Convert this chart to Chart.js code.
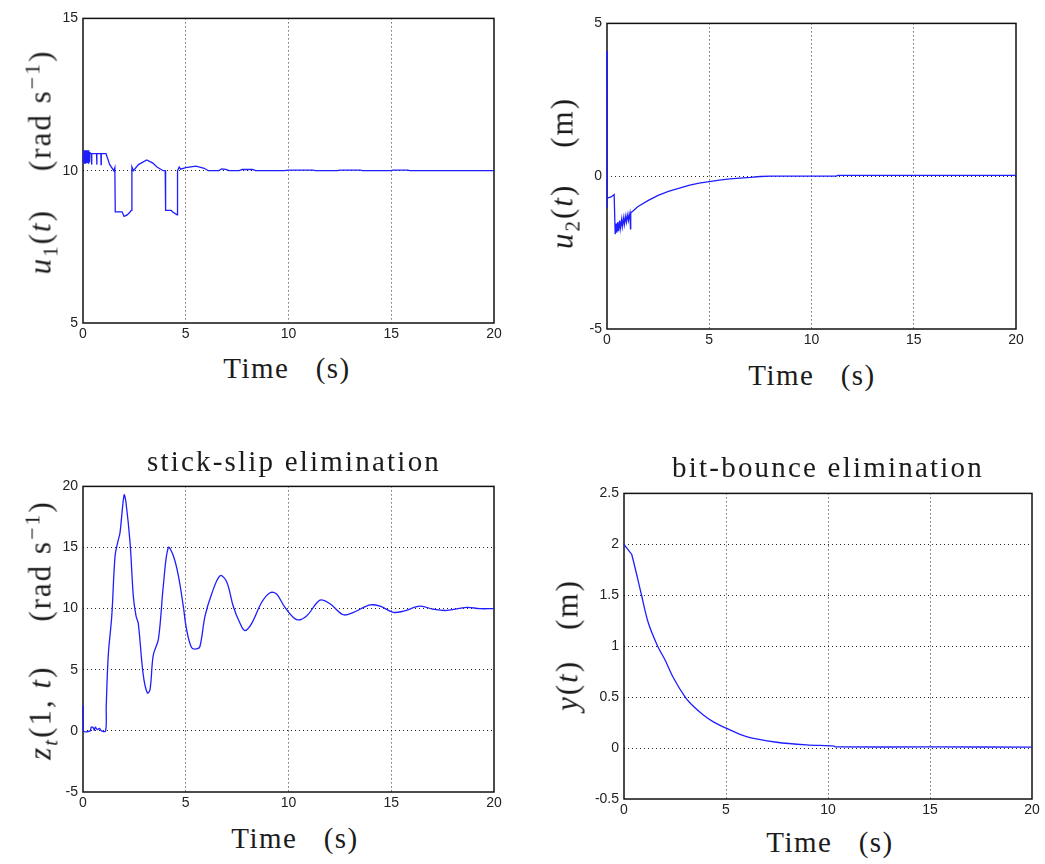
<!DOCTYPE html>
<html>
<head>
<meta charset="utf-8">
<script src="https://cdn.jsdelivr.net/npm/chart.js@4/dist/chart.umd.min.js"></script>
<style>
  body { margin: 0; background: #fff; }
  #page { position: relative; width: 1045px; height: 864px; overflow: hidden; }
  .box { position: absolute; }
  .txt { position: absolute; font-family: "Liberation Serif", serif; font-size: 29px; color: #1b1b1b;
         white-space: pre; transform: translate(-50%, -50%); letter-spacing: 1.5px; line-height: 1; }
  .ttl { letter-spacing: 2.2px; }
  .rot { transform: translate(-50%, -50%) rotate(-90deg); font-size: 31px; letter-spacing: 2px; }
  .txt sub { font-size: 21px; line-height: 0; }
  .txt sup { font-size: 22px; line-height: 0; }
  .gap { display: inline-block; }
</style>
</head>
<body>
<div id="page">
  <div class="box" id="b1"><canvas id="c1"></canvas></div>
  <div class="box" id="b2"><canvas id="c2"></canvas></div>
  <div class="box" id="b3"><canvas id="c3"></canvas></div>
  <div class="box" id="b4"><canvas id="c4"></canvas></div>

  <div class="txt" style="left:287px;top:368px">Time   (s)</div>
  <div class="txt" style="left:812px;top:375px">Time   (s)</div>
  <div class="txt" style="left:295px;top:838px">Time   (s)</div>
  <div class="txt" style="left:830px;top:842px">Time   (s)</div>

  <div class="txt ttl" style="left:294px;top:461px">stick-slip elimination</div>
  <div class="txt ttl" style="left:828px;top:467px">bit-bounce elimination</div>

  <div class="txt rot" style="left:40px;top:162px"><i>u</i><sub>1</sub>(<i>t</i>)<span class="gap" style="width:38px"></span>(rad s<sup>−1</sup>)</div>
  <div class="txt rot" style="left:562px;top:173px"><i>u</i><sub>2</sub>(<i>t</i>)<span class="gap" style="width:36px"></span>(m)</div>
  <div class="txt rot" style="left:40px;top:630px"><i>z</i><sub><i>t</i></sub>(1, <i>t</i>)<span class="gap" style="width:44px"></span>(rad s<sup>−1</sup>)</div>
  <div class="txt rot" style="left:567px;top:645px"><i>y</i>(<i>t</i>)<span class="gap" style="width:30px"></span>(m)</div>
</div>
<script>
// control inputs and outputs (t in s)
const u1T = [0, 0.02, 0.04, 0.06, 0.08, 0.10, 0.12, 0.14, 0.16, 0.18, 0.20, 0.22, 0.24, 0.26, 0.28, 0.30, 0.32,
  0.40, 0.42, 0.43, 0.66, 0.67, 0.68, 0.87, 0.88, 0.89, 1.12, 1.3, 1.5, 1.55, 1.57, 1.9, 2.0, 2.15, 2.3, 2.35,
  2.38, 2.45, 2.7, 3.1, 3.4, 3.6, 3.9, 4.0, 4.02, 4.3, 4.35, 4.58, 4.6, 4.68, 4.75, 5.0, 5.5, 5.9, 6.1, 6.6,
  6.75, 6.95, 7.1, 7.6, 7.75, 8.25, 8.4, 9.8, 10.0, 11.2, 11.3, 12.4, 12.5, 13.5, 13.6, 15.0, 15.1, 15.8, 15.9, 20];
const u1V = [10.5, 10.25, 10.67, 10.25, 10.67, 10.25, 10.67, 10.25, 10.67, 10.25, 10.67, 10.25, 10.67, 10.25, 10.67, 10.3, 10.6,
  10.56, 10.2, 10.56, 10.56, 10.2, 10.56, 10.56, 10.2, 10.56, 10.56, 10.2, 10.0, 10.1, 8.65, 8.65, 8.5, 8.55, 8.65, 8.7,
  10.12, 10.0, 10.2, 10.35, 10.25, 10.12, 10.0, 10.0, 8.7, 8.7, 8.65, 8.55, 10.0, 10.12, 10.05, 10.1, 10.15, 10.08, 10.0, 10.0,
  10.06, 10.04, 10.0, 10.0, 10.04, 10.04, 10.0, 10.0, 10.02, 10.02, 10.0, 10.0, 10.02, 10.02, 10.0, 10.0, 10.02, 10.02, 10.0, 10.0];

const u2T = [0, 0.01, 0.02, 0.2, 0.35, 0.38, 0.4, 0.45, 0.48, 0.53, 0.56, 0.62, 0.65, 0.72, 0.75, 0.82, 0.85,
  0.92, 0.95, 1.02, 1.05, 1.12, 1.15, 1.16, 1.3, 1.5, 2.0, 2.5, 3.0, 3.5, 4.0, 4.5, 5.0, 5.5, 6.0, 6.5, 7.0,
  7.5, 8.0, 11.2, 11.3, 12, 20];
const u2V = [4.1, -1.04, -0.72, -0.68, -0.6, -0.6, -1.9, -1.55, -1.85, -1.5, -1.8, -1.45, -1.72, -1.4, -1.65, -1.35, -1.58,
  -1.3, -1.5, -1.25, -1.45, -1.22, -1.72, -1.2, -1.12, -1.0, -0.8, -0.63, -0.5, -0.4, -0.3, -0.23, -0.18, -0.13, -0.09, -0.06, -0.04,
  -0.01, 0, 0, 0.03, 0.03, 0.03];

const ztT = [0, 0.02, 0.35, 0.4, 0.5, 0.55, 0.6, 0.7, 0.8, 0.9, 1.1, 1.13, 1.23, 1.4, 1.56, 1.7, 1.8, 2.0, 2.09,
  2.29, 2.45, 2.58, 2.69, 2.93, 3.13, 3.26, 3.42, 3.67, 3.91, 4.15, 4.4, 4.64, 4.88, 5.04, 5.29, 5.53, 5.69,
  5.94, 6.26, 6.67, 6.99, 7.31, 7.64, 7.88, 8.21, 8.69, 9.1, 9.42, 9.83, 10.4, 10.88, 11.53, 12.02, 12.67,
  13.16, 13.97, 14.45, 15.1, 15.6, 16.4, 17.05, 17.7, 18.67, 19.3, 20];
const ztV = [2.1, 0, 0, 0.3, 0.25, 0.05, 0.3, 0.1, 0.2, 0, 0, 2.0, 6.2, 9.4, 14.3, 15.5, 16.2, 19.3, 18.7,
  15.4, 11.0, 9.4, 8.8, 4.6, 3.1, 3.35, 6.2, 7.5, 11.9, 15.0, 14.3, 12.7, 10.2, 8.3, 6.8, 6.7, 6.9,
  9.4, 11.2, 12.7, 12.2, 10.2, 8.8, 8.2, 8.8, 10.5, 11.3, 11.2, 10.1, 9.1, 9.4, 10.7, 10.4, 9.5,
  9.7, 10.3, 10.2, 9.7, 9.8, 10.2, 9.95, 9.85, 10.1, 10.0, 10.0];

const yT = [0, 0.3, 0.38, 0.86, 1.19, 1.65, 2.0, 2.42, 3.0, 3.4, 3.89, 4.38, 5.0, 6.0, 7.48, 8.95, 10.3, 10.35, 15, 20];
const yV = [2.0, 1.92, 1.9, 1.5, 1.23, 1.0, 0.87, 0.69, 0.5, 0.41, 0.325, 0.257, 0.196, 0.112, 0.057, 0.031, 0.02, 0.012, 0.011, 0.01];

const timeRange = [0, 20, 5];
const u1Range = [5, 15, 5];
const u2Range = [-5, 5, 5];
const ztRange = [-5, 20, 5];
const yRange = [-0.5, 2.5, 0.5];

const YW = 50, XH = 25, PT = 10, PR = 16;

const frame = {
  id: 'frame',
  beforeDatasetsDraw(chart) {
    const a = chart.chartArea, c = chart.ctx;
    c.save();
    c.strokeStyle = '#111';
    c.lineWidth = 1.5;
    c.strokeRect(a.left, a.top, a.right - a.left, a.bottom - a.top);
    c.restore();
  }
};

function inner(ctx) {
  const n = ctx.scale.ticks.length;
  return (ctx.index === 0 || ctx.index === n - 1) ? 'rgba(0,0,0,0)' : '#222';
}

function plot(id, boxId, area, tArr, vArr, yr, tension) {
  const box = document.getElementById(boxId);
  box.style.left = (area[0] - YW) + 'px';
  box.style.top = (area[1] - PT) + 'px';
  box.style.width = (area[2] - area[0] + YW + PR) + 'px';
  box.style.height = (area[3] - area[1] + PT + XH) + 'px';
  const pts = tArr.map((t, i) => ({ x: t, y: vArr[i] }));
  const tickFont = { family: '"Liberation Sans", Arial, sans-serif', size: 14 };
  new Chart(document.getElementById(id), {
    type: 'line',
    data: { datasets: [{ data: pts, borderColor: '#1e1eff', borderWidth: 1.3, pointRadius: 0,
      tension: tension, fill: false, clip: 4 }] },
    options: {
      responsive: true, maintainAspectRatio: false, animation: false,
      layout: { padding: { left: 0, top: PT, right: PR, bottom: 0 } },
      plugins: { legend: { display: false }, tooltip: { enabled: false } },
      scales: {
        x: {
          type: 'linear', min: timeRange[0], max: timeRange[1],
          ticks: { stepSize: timeRange[2], color: '#222', font: tickFont, padding: 3, maxRotation: 0,
            callback: v => String(v) },
          grid: { color: inner, lineWidth: 1, drawTicks: false },
          border: { display: false, dash: [1, 3] },
          afterFit(s) { s.height = XH; }
        },
        y: {
          type: 'linear', min: yr[0], max: yr[1],
          ticks: { stepSize: yr[2], color: '#222', font: tickFont, padding: 5,
            callback: v => String(v) },
          grid: { color: inner, lineWidth: 1, drawTicks: false },
          border: { display: false, dash: [1, 3] },
          afterFit(s) { s.width = YW; }
        }
      }
    },
    plugins: [frame]
  });
}

plot('c1', 'b1', [83, 15, 494, 323], u1T, u1V, u1Range, 0);
plot('c2', 'b2', [607, 20, 1016, 329], u2T, u2V, u2Range, 0);
plot('c3', 'b3', [83, 483, 494, 792], ztT, ztV, ztRange, 0.35);
plot('c4', 'b4', [624, 490, 1032, 799], yT, yV, yRange, 0.3);
</script>
</body>
</html>
